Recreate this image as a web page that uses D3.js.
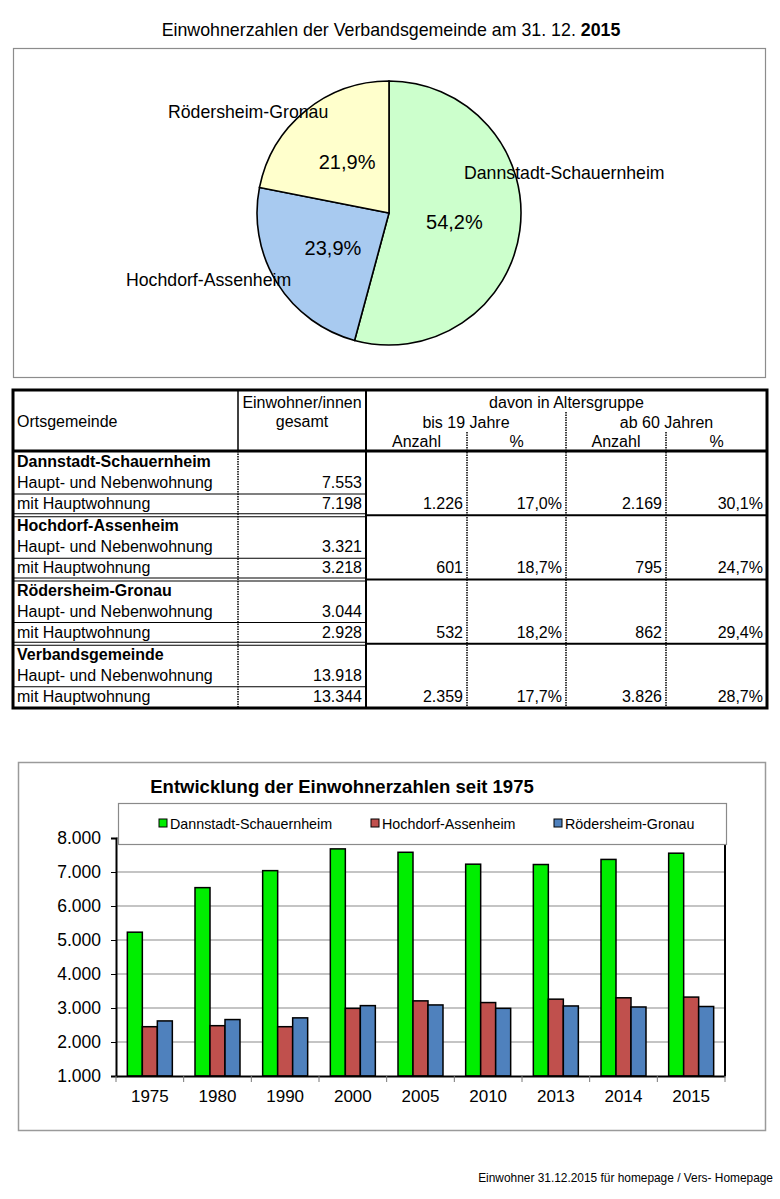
<!DOCTYPE html>
<html>
<head>
<meta charset="utf-8">
<script src="https://cdnjs.cloudflare.com/ajax/libs/d3/7.8.5/d3.min.js"></script>
<style>
  body { margin: 0; background: #fff; }
  svg { display: block; font-family: "Liberation Sans", Arial, sans-serif; }
</style>
</head>
<body>
<svg id="page" width="780" height="1199"></svg>
<script>
// --- data ---
var places = ["Dannstadt-Schauernheim", "Hochdorf-Assenheim", "Rödersheim-Gronau"];
var pieShares = [54.2, 23.9, 21.9];

var tableNames = ["Dannstadt-Schauernheim", "Hochdorf-Assenheim", "Rödersheim-Gronau", "Verbandsgemeinde"];
var totalAll = [7553, 3321, 3044, 13918];
var totalMain = [7198, 3218, 2928, 13344];
var young = [1226, 601, 532, 2359];
var youngPct = [17.0, 18.7, 18.2, 17.7];
var old = [2169, 795, 862, 3826];
var oldPct = [30.1, 24.7, 29.4, 28.7];

var years = ["1975", "1980", "1990", "2000", "2005", "2010", "2013", "2014", "2015"];
var dannstadt = [5230, 6540, 7040, 7680, 7580, 7230, 7220, 7370, 7553];
var hochdorf = [2450, 2480, 2450, 2990, 3210, 3160, 3260, 3300, 3321];
var roedersheim = [2620, 2660, 2710, 3070, 3090, 2990, 3060, 3030, 3044];
var yTicks = [1000, 2000, 3000, 4000, 5000, 6000, 7000, 8000];

var de = d3.formatLocale({decimal: ",", thousands: ".", grouping: [3], currency: ["", " €"]});
var fmtInt = de.format(",");
var fmtPct = function(v) { return de.format(".1f")(v) + "%"; };

var svg = d3.select("#page");

// --- pie ---
svg.append("text")
  .attr("x", 391).attr("y", 36)
  .attr("text-anchor", "middle")
  .style("font-size", "17.8px")
  .text("Einwohnerzahlen der Verbandsgemeinde am 31. 12. ")
  .append("tspan").style("font-weight", "bold").text("2015");

svg.append("rect")
  .attr("x", 13.5).attr("y", 48.5).attr("width", 752).attr("height", 329)
  .attr("fill", "none").attr("stroke", "#8c8c8c").attr("stroke-width", 1.2);

var pieColors = ["#ccffcc", "#a8caf0", "#ffffcc"];
var radius = 132;
var pieG = svg.append("g").attr("transform", "translate(389,213)");
var arcs = d3.pie().sort(null).value(function(d) { return d; })(pieShares);
var arc = d3.arc().innerRadius(0).outerRadius(radius);

pieG.selectAll("path").data(arcs).enter().append("path")
  .attr("d", arc)
  .attr("fill", function(d, i) { return pieColors[i]; })
  .attr("stroke", "#000").attr("stroke-width", 1.6);

pieG.selectAll("text.pct").data(arcs).enter().append("text")
  .attr("class", "pct")
  .attr("transform", function(d) { return "translate(" + arc.centroid(d) + ")"; })
  .attr("text-anchor", "middle").attr("dy", "0.36em")
  .style("font-size", "20px")
  .text(function(d) { return fmtPct(d.data); });

// name labels (best-fit placement as in the original)
var nameSpots = [[75, -34], [-263, 73], [-221, -95]];
pieG.selectAll("text.name").data(places).enter().append("text")
  .attr("class", "name")
  .attr("x", function(d, i) { return nameSpots[i][0]; })
  .attr("y", function(d, i) { return nameSpots[i][1]; })
  .style("font-size", "17.7px")
  .text(function(d) { return d; });

// --- table ---
var cols = [13, 238, 366, 467, 566, 666, 767];
var tTop = 390, tHead = 451, tBottom = 708;
var groupH = (tBottom - tHead) / tableNames.length;
var tg = svg.append("g").style("font-size", "16px");

function line(x1, y1, x2, y2, w, dash) {
  tg.append("line").attr("x1", x1).attr("y1", y1).attr("x2", x2).attr("y2", y2)
    .attr("stroke", "#000").attr("stroke-width", w)
    .attr("stroke-dasharray", dash || null);
}

// header text
tg.append("text").attr("x", 17).attr("y", 427).text("Ortsgemeinde");
tg.append("text").attr("x", (cols[1] + cols[2]) / 2).attr("y", 408).attr("text-anchor", "middle").text("Einwohner/innen");
tg.append("text").attr("x", (cols[1] + cols[2]) / 2).attr("y", 427).attr("text-anchor", "middle").text("gesamt");
tg.append("text").attr("x", (cols[2] + cols[6]) / 2).attr("y", 408).attr("text-anchor", "middle").text("davon in Altersgruppe");
tg.append("text").attr("x", (cols[2] + cols[4]) / 2).attr("y", 428).attr("text-anchor", "middle").text("bis 19 Jahre");
tg.append("text").attr("x", (cols[4] + cols[6]) / 2).attr("y", 428).attr("text-anchor", "middle").text("ab 60 Jahren");
[["Anzahl", 2], ["%", 3], ["Anzahl", 4], ["%", 5]].forEach(function(h) {
  tg.append("text").attr("x", (cols[h[1]] + cols[h[1] + 1]) / 2).attr("y", 447)
    .attr("text-anchor", "middle").text(h[0]);
});

// body rows
tableNames.forEach(function(name, i) {
  var top = tHead + i * groupH;
  tg.append("text").attr("x", 17).attr("y", top + 16).style("font-weight", "bold").text(name);
  tg.append("text").attr("x", 17).attr("y", top + 37).text("Haupt- und Nebenwohnung");
  tg.append("text").attr("x", 17).attr("y", top + 58).text("mit Hauptwohnung");
  tg.append("text").attr("x", cols[2] - 4).attr("y", top + 37).attr("text-anchor", "end").text(fmtInt(totalAll[i]));
  tg.append("text").attr("x", cols[2] - 4).attr("y", top + 58).attr("text-anchor", "end").text(fmtInt(totalMain[i]));
  [fmtInt(young[i]), fmtPct(youngPct[i]), fmtInt(old[i]), fmtPct(oldPct[i])].forEach(function(v, j) {
    tg.append("text").attr("x", cols[j + 3] - 4).attr("y", top + 58).attr("text-anchor", "end").text(v);
  });
  line(cols[0], top + 43, cols[2], top + 43, 1.2);
  if (i > 0) {
    line(cols[0], top - 1.5, cols[2], top - 1.5, 1.2);
    line(cols[0], top + 1.5, cols[2], top + 1.5, 1.2);
    line(cols[2], top, cols[6], top, 2);
  }
});

// grid lines
line(cols[1], tTop, cols[1], tHead, 1.5);
line(cols[1], tHead, cols[1], tBottom, 1.5, "1.5,1");
line(cols[2], tTop, cols[2], tBottom, 2);
line(cols[3], 432, cols[3], tBottom, 1.5, "1.5,1");
line(cols[5], 432, cols[5], tBottom, 1.5, "1.5,1");
line(cols[4], 412, cols[4], tBottom, 1.5, "1.5,1");
line(cols[0], tHead, cols[6], tHead, 3);
tg.append("rect").attr("x", cols[0]).attr("y", tTop)
  .attr("width", cols[6] - cols[0]).attr("height", tBottom - tTop)
  .attr("fill", "none").attr("stroke", "#000").attr("stroke-width", 3);

// --- bar chart ---
svg.append("rect")
  .attr("x", 18.5).attr("y", 762.5).attr("width", 747).attr("height", 368)
  .attr("fill", "none").attr("stroke", "#9a9a9a").attr("stroke-width", 1.5);

svg.append("text")
  .attr("x", 342).attr("y", 793)
  .attr("text-anchor", "middle")
  .style("font-size", "18.5px").style("font-weight", "bold")
  .text("Entwicklung der Einwohnerzahlen seit 1975");

var plot = {left: 116, right: 725, top: 838, bottom: 1076};
var series = [dannstadt, hochdorf, roedersheim];
var barColors = ["#00ee00", "#c0504d", "#4f81bd"];

var x0 = d3.scaleBand().domain(years).range([plot.left, plot.right])
  .paddingInner(0.335).paddingOuter(0.1675);
var x1 = d3.scaleBand().domain([0, 1, 2]).range([0, x0.bandwidth()]);
var y = d3.scaleLinear().domain([1000, 8000]).range([plot.bottom, plot.top]);

var bg = svg.append("g");
// gridlines
bg.selectAll("line.grid").data(yTicks.slice(1)).enter().append("line")
  .attr("x1", plot.left).attr("x2", plot.right)
  .attr("y1", function(d) { return y(d); }).attr("y2", function(d) { return y(d); })
  .attr("stroke", "#8a8a8a").attr("stroke-width", 1.2);

// y axis
var yAxis = bg.append("g").attr("transform", "translate(" + plot.left + ",0)")
  .call(d3.axisLeft(y).tickValues(yTicks).tickSize(5).tickPadding(10).tickFormat(fmtInt));
yAxis.select(".domain").attr("stroke-width", 2);
yAxis.selectAll("text").style("font-size", "17.5px").style("font-family", "'Liberation Sans', Arial, sans-serif");

// bars
years.forEach(function(yr, i) {
  series.forEach(function(s, j) {
    bg.append("rect")
      .attr("x", x0(yr) + x1(j))
      .attr("y", y(s[i]))
      .attr("width", x1.bandwidth())
      .attr("height", plot.bottom - y(s[i]))
      .attr("fill", barColors[j])
      .attr("stroke", "#000").attr("stroke-width", 1.5);
  });
});

// x axis
var xAxis = bg.append("g").attr("transform", "translate(0," + plot.bottom + ")")
  .call(d3.axisBottom(x0).tickSize(0).tickPadding(14));
xAxis.select(".domain").attr("stroke-width", 2);
xAxis.selectAll("text").style("font-size", "17px").style("font-family", "'Liberation Sans', Arial, sans-serif");
var step = x0.step();
bg.selectAll("line.xtick").data(d3.range(years.length + 1)).enter().append("line")
  .attr("x1", function(d) { return plot.left + d * step; })
  .attr("x2", function(d) { return plot.left + d * step; })
  .attr("y1", plot.bottom).attr("y2", plot.bottom + 6)
  .attr("stroke", "#777").attr("stroke-width", 1);

// right frame line
bg.append("line").attr("x1", plot.right).attr("x2", plot.right)
  .attr("y1", 844).attr("y2", plot.bottom)
  .attr("stroke", "#000").attr("stroke-width", 2);

// legend
var lg = svg.append("g");
lg.append("rect").attr("x", 118.5).attr("y", 803.5).attr("width", 608).attr("height", 41)
  .attr("fill", "#fff").attr("stroke", "#8a8a8a").attr("stroke-width", 1.2);
var legendX = [159, 371, 554];
places.forEach(function(p, j) {
  lg.append("rect").attr("x", legendX[j]).attr("y", 819).attr("width", 8).attr("height", 8)
    .attr("fill", barColors[j]).attr("stroke", "#000").attr("stroke-width", 1);
  lg.append("text").attr("x", legendX[j] + 11).attr("y", 828.5)
    .style("font-size", "14.3px").text(p);
});

// footer
svg.append("text").attr("x", 773).attr("y", 1182).attr("text-anchor", "end")
  .style("font-size", "11.9px")
  .text("Einwohner 31.12.2015 für homepage / Vers- Homepage");
</script>
</body>
</html>
